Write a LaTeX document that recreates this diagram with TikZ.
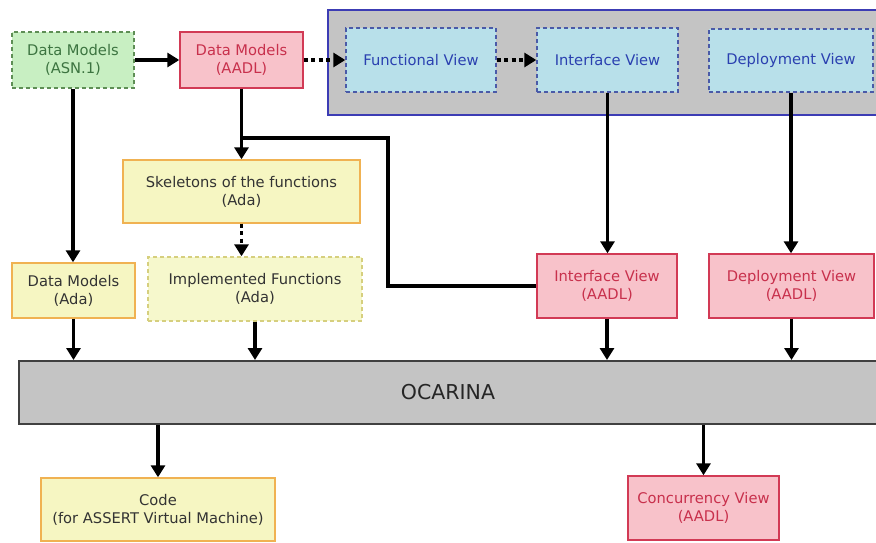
\documentclass[tikz,border=0pt]{standalone}
\usepackage{fontspec}
\setmainfont{DejaVu Sans}
\usetikzlibrary{arrows.meta}
\definecolor{grfill}{HTML}{C8EFC2}
\definecolor{grline}{HTML}{5E8E55}
\definecolor{grtext}{HTML}{3C7440}
\definecolor{pkfill}{HTML}{F8C2CA}
\definecolor{pkline}{HTML}{D23A55}
\definecolor{pktext}{HTML}{C8304C}
\definecolor{blfill}{HTML}{B8E0EA}
\definecolor{blline}{HTML}{4A5AA8}
\definecolor{bltext}{HTML}{2A40B0}
\definecolor{ctfill}{HTML}{C4C4C4}
\definecolor{ctline}{HTML}{3C3CB4}
\definecolor{ylfill}{HTML}{F6F6C2}
\definecolor{ylline}{HTML}{F0B252}
\definecolor{ylfill2}{HTML}{F6F8CC}
\definecolor{ylline2}{HTML}{D6CF7E}
\definecolor{txt}{HTML}{333333}
\tikzset{
  box/.style={rectangle, inner sep=0pt, align=center, line width=1.4pt,
    font=\fontsize{14.7}{18}\selectfont},
  greenbox/.style={box, fill=grfill, draw=grline, dash pattern=on 4pt off 3pt, text=grtext},
  pinkbox/.style={box, fill=pkfill, draw=pkline, text=pktext},
  bluebox/.style={box, fill=blfill, draw=blline, dash pattern=on 4pt off 3pt, text=bltext},
  yellowbox/.style={box, fill=ylfill, draw=ylline, text=txt},
  yellowdash/.style={box, fill=ylfill2, draw=ylline2, dash pattern=on 4pt off 3pt, text=txt},
  conn/.style={line width=3.5pt, draw=black, -{Triangle[length=12pt,width=14pt]}},
  plainconn/.style={line width=3.5pt, draw=black},
  dotconn/.style={line width=3.5pt, draw=black, dash pattern=on 4pt off 3.5pt,
    -{Triangle[length=12pt,width=14pt]}},
}
\begin{document}
\begin{tikzpicture}[x=1pt, y=-1pt]
\useasboundingbox (0,0) rectangle (876,543);
% container
\node[draw=ctline, fill=ctfill, line width=2pt, minimum width=556pt, minimum height=105pt,
  inner sep=0pt, anchor=north west] (cont) at (327,9) {};
% top row
\node[greenbox, minimum width=122pt, minimum height=56pt] (asn) at (73,60) {Data Models\\(ASN.1)};
\node[pinkbox, minimum width=123pt, minimum height=56pt] (aadl) at (241.5,60) {Data Models\\(AADL)};
\node[bluebox, minimum width=150pt, minimum height=64pt] (func) at (421,60) {Functional View};
\node[bluebox, minimum width=141pt, minimum height=64pt] (ivtop) at (607.5,60) {Interface View};
\node[bluebox, minimum width=164pt, minimum height=63pt] (dvtop) at (791,60.5) {Deployment View};
% middle
\node[yellowbox, minimum width=237pt, minimum height=63pt] (skel) at (241.5,191.5) {Skeletons of the functions\\(Ada)};
\node[yellowbox, minimum width=123pt, minimum height=55pt] (dmada) at (73.5,290.5) {Data Models\\(Ada)};
\node[yellowdash, minimum width=214pt, minimum height=64pt] (impl) at (255,289) {Implemented Functions\\(Ada)};
\node[pinkbox, minimum width=140pt, minimum height=64pt] (ivaadl) at (607,286) {Interface View\\(AADL)};
\node[pinkbox, minimum width=165pt, minimum height=64pt] (dvaadl) at (791.5,286) {Deployment View\\(AADL)};
% ocarina
\node[draw=black!75, fill=ctfill, line width=2pt, minimum width=858pt, minimum height=63pt,
  inner sep=0pt, font=\fontsize{20.5}{24}\selectfont, text=black!85] (oc) at (448,392.5) {OCARINA};
% bottom
\node[yellowbox, minimum width=234pt, minimum height=63pt] (code) at (158,509.5) {Code\\(for ASSERT Virtual Machine)};
\node[pinkbox, minimum width=151pt, minimum height=64pt] (conc) at (703.5,508) {Concurrency View\\(AADL)};
% connectors
\draw[conn] (asn.east) -- (aadl.west);
\draw[dotconn] (aadl.east) -- (func.west);
\draw[dotconn] (func.east) -- (ivtop.west);
\draw[conn] (asn.south) -- (dmada.north -| asn.south);
\draw[conn] (aadl.south) -- (skel.north -| aadl.south);
\coordinate (j) at (241.5,138);
\coordinate (k) at (388,138);
\draw[plainconn] (j) -- (k) -- (k |- ivaadl.west) -- (ivaadl.west);
\draw[dotconn] (skel.south -| aadl.south) -- (impl.north -| aadl.south);
\draw[conn] (ivtop.south) -- (ivaadl.north -| ivtop.south);
\draw[conn] (dvtop.south) -- (dvaadl.north -| dvtop.south);
\draw[conn] (dmada.south) -- (oc.north -| dmada.south);
\draw[conn] (impl.south) -- (oc.north -| impl.south);
\draw[conn] (ivaadl.south) -- (oc.north -| ivaadl.south);
\draw[conn] (dvaadl.south) -- (oc.north -| dvaadl.south);
\draw[conn] (oc.south -| code.north) -- (code.north);
\draw[conn] (oc.south -| conc.north) -- (conc.north);
\end{tikzpicture}
\end{document}
